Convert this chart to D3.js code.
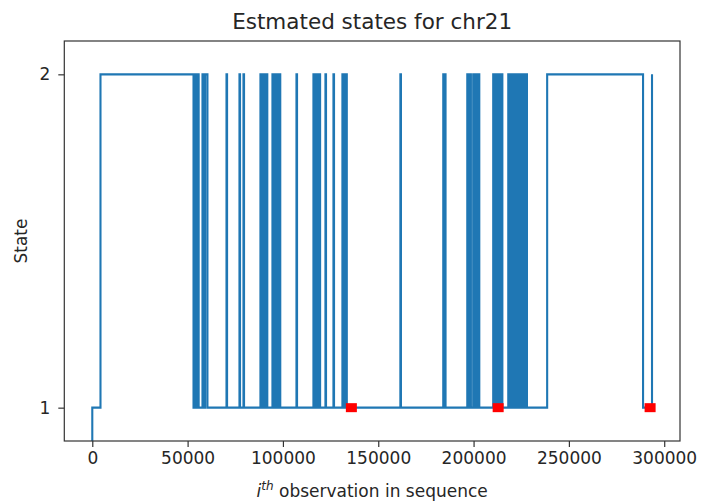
<!DOCTYPE html>
<html>
<head>
<meta charset="utf-8">
<script src="https://cdn.jsdelivr.net/npm/d3@7"></script>
<style>
  body { margin: 0; background: #fff; }
  text { font-family: "DejaVu Sans", sans-serif; fill: #262626; }
</style>
</head>
<body>
<div id="chart-area"></div>
<script>
// change points of the estimated state path: observation index, state from there on
const changeAt = [
  0, 1, 4300,
  53100, 53800, 54500, 55200, 55800, 57800, 58500, 59200, 60400,
  70400, 70700, 77200, 77500, 79300, 79600,
  88200, 88900, 89600, 90300, 91000, 91800,
  94500, 95300, 96100, 96900, 97700, 98600,
  107100, 107400, 116000, 116800, 117600, 118400, 119100, 119500,
  122300, 122600, 126500, 126800, 131200, 131900, 132800, 133500,
  161600, 161900, 184100, 184500, 185000, 185300,
  196700, 197300, 198000, 198600, 199800, 200300, 201100, 201800, 202600, 203000,
  210300, 211000, 211700, 212400, 213100, 213800, 214500, 215100,
  218200, 218600, 219700, 220100, 221100, 221600, 222300, 223000,
  223700, 224400, 225100, 225800, 226500, 227200, 227700, 228000,
  238600, 288900, 293600
]
const stateAt = [
  0, 1, 2,
  1, 2, 1, 2, 1, 2, 1, 2, 1,
  2, 1, 2, 1, 2, 1,
  2, 1, 2, 1, 2, 1,
  2, 1, 2, 1, 2, 1,
  2, 1, 2, 1, 2, 1, 2, 1,
  2, 1, 2, 1, 2, 1, 2, 1,
  2, 1, 2, 1, 2, 1,
  2, 1, 2, 1, 2, 1, 2, 1, 2, 1,
  2, 1, 2, 1, 2, 1, 2, 1,
  2, 1, 2, 1, 2, 1, 2, 1,
  2, 1, 2, 1, 2, 1, 2, 1,
  2, 1, 2
]

// highlighted observations (red squares on state 1)
const markedObs = [135900, 212900, 292600]
const markedState = [1, 1, 1]

const xTicks = [0, 50000, 100000, 150000, 200000, 250000, 300000]
const yTicks = [1, 2]

const MARGIN = { LEFT: 64.3, RIGHT: 24, TOP: 41, BOTTOM: 62 }
const WIDTH = 704 - MARGIN.LEFT - MARGIN.RIGHT
const HEIGHT = 503 - MARGIN.TOP - MARGIN.BOTTOM

const svg = d3.select("#chart-area").append("svg")
  .attr("width", 704)
  .attr("height", 503)

const g = svg.append("g")
  .attr("transform", `translate(${MARGIN.LEFT}, ${MARGIN.TOP})`)

// Scales (matplotlib-like 5% margin on x, ylim 0.9..2.1)
const x = d3.scaleLinear()
  .domain([-14680, 308280])
  .range([0, WIDTH])
const y = d3.scaleLinear()
  .domain([0.9, 2.1])
  .range([HEIGHT, 0])

svg.append("defs").append("clipPath")
  .attr("id", "plot-clip")
  .append("rect")
  .attr("width", WIDTH)
  .attr("height", HEIGHT)

const path = changeAt.map((d, i) => ({ obs: d, state: stateAt[i] }))

const line = d3.line()
  .x(d => x(d.obs))
  .y(d => y(d.state))
  .curve(d3.curveStepAfter)

g.append("path")
  .datum(path)
  .attr("clip-path", "url(#plot-clip)")
  .attr("fill", "none")
  .attr("stroke", "#1f77b4")
  .attr("stroke-width", 2.1)
  .attr("stroke-linejoin", "miter")
  .attr("d", line)

g.selectAll("rect.mark")
  .data(markedObs)
  .enter().append("rect")
  .attr("class", "mark")
  .attr("x", d => x(d) - 5.5)
  .attr("y", (d, i) => y(markedState[i]) - 4.5)
  .attr("width", 11)
  .attr("height", 9)
  .attr("fill", "#ff0000")

// Axes
const xAxisCall = d3.axisBottom(x)
  .tickValues(xTicks)
  .tickFormat(d => d)
  .tickSize(6)
  .tickPadding(5)
const yAxisCall = d3.axisLeft(y)
  .tickValues(yTicks)
  .tickFormat(d => d)
  .tickSize(6)
  .tickPadding(8)

const xAxis = g.append("g")
  .attr("transform", `translate(0, ${HEIGHT})`)
  .call(xAxisCall)
const yAxis = g.append("g")
  .call(yAxisCall)

;[xAxis, yAxis].forEach(a => {
  a.select(".domain").remove()
  a.selectAll("line").attr("stroke", "#333").attr("stroke-width", 1.2)
  a.selectAll("text")
    .attr("font-size", "17px")
    .style("font-family", "'DejaVu Sans', sans-serif")
    .attr("fill", "#262626")
})

// frame
g.append("rect")
  .attr("width", WIDTH)
  .attr("height", HEIGHT)
  .attr("fill", "none")
  .attr("stroke", "#333")
  .attr("stroke-width", 1.2)

// Labels
svg.append("text")
  .attr("x", MARGIN.LEFT + WIDTH / 2)
  .attr("y", 29)
  .attr("font-size", "21.5px")
  .attr("text-anchor", "middle")
  .text("Estmated states for chr21")

const xLabel = svg.append("text")
  .attr("x", MARGIN.LEFT + WIDTH / 2)
  .attr("y", 497)
  .attr("font-size", "17px")
  .attr("text-anchor", "middle")
xLabel.append("tspan").attr("font-style", "italic").text("i")
xLabel.append("tspan").attr("font-size", "12px").attr("font-style", "italic").attr("dy", -7).text("th")
xLabel.append("tspan").attr("dy", 7).text(" observation in sequence")

svg.append("text")
  .attr("transform", `translate(27, ${MARGIN.TOP + HEIGHT / 2}) rotate(-90)`)
  .attr("font-size", "17px")
  .attr("text-anchor", "middle")
  .text("State")
</script>
</body>
</html>
